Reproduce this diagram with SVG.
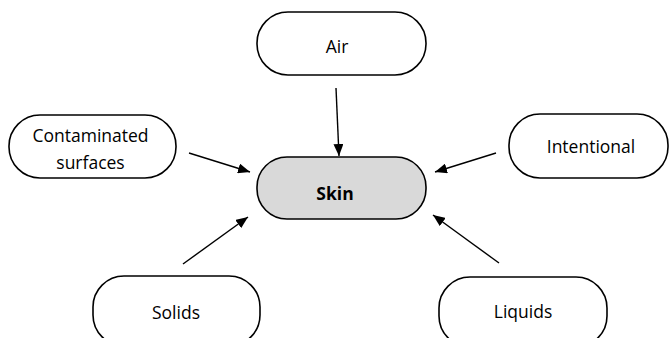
<svg xmlns="http://www.w3.org/2000/svg" width="669" height="338" viewBox="0 0 669 338">
<defs>
<style>
.n{fill:#fff;stroke:#000;stroke-width:1.6}
.c{fill:#d9d9d9;stroke:#000;stroke-width:1.6}
text{font-family:"Open Sans","Liberation Sans",sans-serif;font-size:17.5px;fill:#000;text-anchor:middle}
.b{font-weight:bold}
.e{stroke:#000;stroke-width:1.4;fill:none;marker-end:url(#ah)}
</style>
<marker id="ah" viewBox="0 0 10 10" refX="10" refY="5" markerWidth="12" markerHeight="10" orient="auto" markerUnits="userSpaceOnUse" preserveAspectRatio="none">
<path d="M0,0 L10,5 L0,10 z" fill="#000"/>
</marker>
</defs>
<g id="air"><rect class="n" x="257" y="12" width="169" height="63" rx="31"/><text x="337" y="53">Air</text></g>
<g id="contaminated"><rect class="n" x="9" y="115" width="167" height="63" rx="31"/><text x="90.5" y="142">Contaminated</text><text x="90.5" y="169">surfaces</text></g>
<g id="intentional"><rect class="n" x="509" y="114" width="159" height="64" rx="31"/><text x="591" y="153">Intentional</text></g>
<g id="skin"><rect class="c" x="257" y="157" width="169" height="62" rx="30"/><text class="b" x="335" y="200">Skin</text></g>
<g id="solids"><rect class="n" x="93" y="276" width="167" height="70" rx="31"/><text x="176" y="319">Solids</text></g>
<g id="liquids"><rect class="n" x="439" y="277" width="168" height="70" rx="31"/><text x="523" y="318">Liquids</text></g>
<g id="connectors">
<line class="e" x1="336" y1="88" x2="339" y2="156"/>
<line class="e" x1="189" y1="153" x2="250" y2="172"/>
<line class="e" x1="496" y1="153" x2="435" y2="172"/>
<line class="e" x1="183" y1="264" x2="248" y2="217"/>
<line class="e" x1="499" y1="263" x2="433" y2="215"/>
</g>
</svg>
